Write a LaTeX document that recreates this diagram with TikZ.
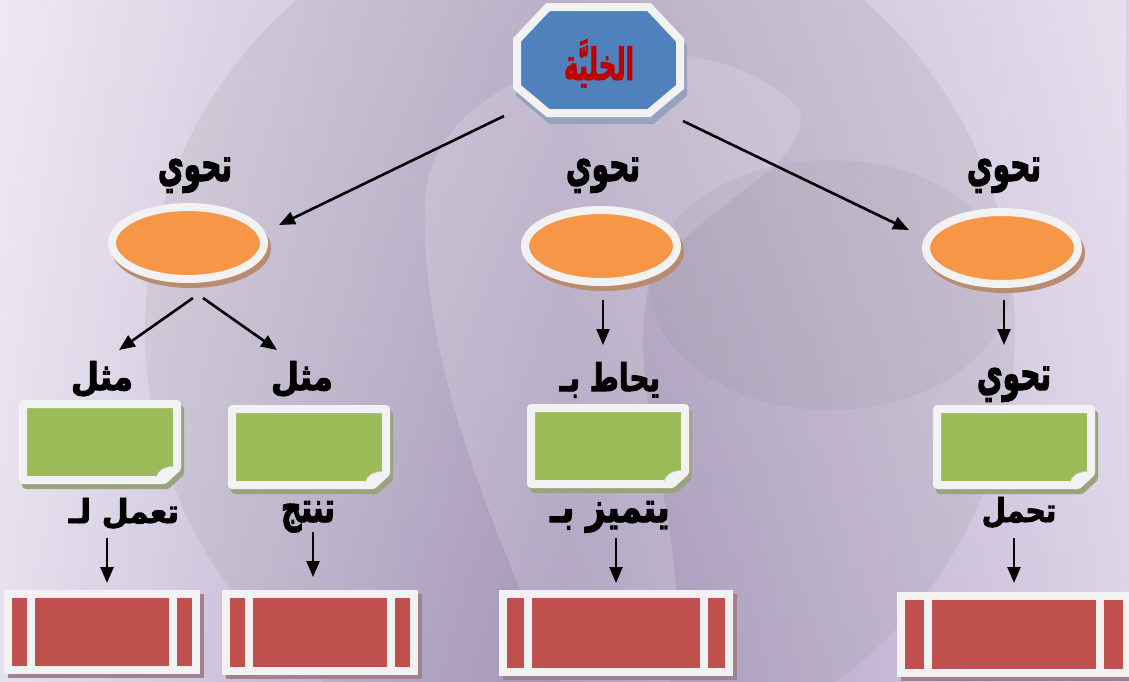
\documentclass[tikz,border=0pt]{standalone}
\usepackage{graphicx}
\usepackage{fontspec}
\newfontfamily\arfont[Script=Arabic,FakeBold=2.6,FakeStretch=0.85]{DejaVu Sans Bold}
\newfontfamily\artitle[Script=Arabic,FakeBold=2.0,FakeStretch=0.72]{DejaVu Sans Bold}
\TeXXeTstate=1
\usetikzlibrary{arrows.meta,calc,fadings,shapes.geometric}
\definecolor{bgleft}{HTML}{E6E0EE}
\definecolor{bgmid}{HTML}{A897C0}
\definecolor{bgright}{HTML}{DCD3E7}
\definecolor{cellblue}{HTML}{4F81BD}
\definecolor{cellshadow}{HTML}{97A2BF}
\definecolor{titlered}{HTML}{C00000}
\definecolor{ovalfill}{HTML}{F79646}
\definecolor{ovalshadow}{HTML}{B98B70}
\definecolor{notefill}{HTML}{9BBB59}
\definecolor{noteshadow}{HTML}{99A47F}
\definecolor{barfill}{HTML}{C0504D}
\definecolor{barshadow}{HTML}{A2818F}
\definecolor{paper}{HTML}{F2F2F2}

% stretched lettering: horizontal and vertical factors
\newcommand\stretchar[3]{\scalebox{#1}[#2]{#3}}

% a green note card with a folded lower right corner
\newcommand\notecard[3]{%
  \begin{scope}[shift={(#2,#3)}]
    \filldraw[fill=noteshadow,draw=noteshadow,line width=8pt,line join=round,shift={(3,5)}]
      (-77,-38) -- (77,-38) -- (77,26) -- (64,38) -- (-77,38) -- cycle;
    \filldraw[fill=notefill,draw=paper,line width=8pt,line join=round]
      (-77,-38) -- (77,-38) -- (77,26) -- (64,38) -- (-77,38) -- cycle;
    \fill[paper] (56,35) .. controls (58,28) and (64,25) .. (74,24) -- (74,30) -- (62,39) -- cycle;
    \draw[black!25,line width=0.6pt] (56,35) .. controls (58,28) and (64,25) .. (74,24);
  \end{scope}
  \node[minimum width=162pt,minimum height=84pt] (#1) at (#2,#3) {};
}

\begin{document}
\begin{tikzpicture}[x=1pt,y=-1pt,
  arr/.style={line width=2.6pt,-{Triangle[length=16pt,width=13pt]}},
  lbl/.style={font=\arfont\fontsize{33}{36}\selectfont,inner sep=0pt,anchor=base},
  oval/.style={ellipse,minimum width=152pt,minimum height=72pt,inner sep=0pt,outer sep=0pt,
    fill=ovalfill,draw=paper,line width=8pt,
    preaction={fill=ovalshadow,draw=ovalshadow,line width=8pt,transform canvas={xshift=3pt,yshift=-5pt}}},
  bar/.style={rectangle,inner sep=0pt,outer sep=0pt,fill=barfill,draw=paper,line width=8pt,
    preaction={fill=barshadow,draw=barshadow,line width=8pt,transform canvas={xshift=4pt,yshift=-4pt}}},
  stripe/.style={draw=paper,line width=8pt}]

% backdrop
\useasboundingbox (0,0) rectangle (1129,681);
\shade[left color=bgleft,right color=bgright,middle color=bgmid] (0,0) rectangle (1129,681);
\fill[white,path fading=south,fill opacity=0.3] (0,0) rectangle (1129,681);
\begin{scope}
  \clip (0,0) rectangle (1129,681);
  \fill[black!45,fill opacity=0.15] (580,330) circle[radius=435];
  \fill[white,fill opacity=0.16] (425,200) .. controls (430,60) and (700,0) .. (800,110)
    .. controls (810,170) and (700,200) .. (650,280)
    .. controls (620,400) and (700,550) .. (670,681) -- (560,681)
    .. controls (480,500) and (420,350) .. (425,200) -- cycle;
  \fill[black!50,fill opacity=0.10] (830,285) ellipse[x radius=180,y radius=125];
\end{scope}

% the cell octagon
\filldraw[fill=cellshadow,draw=cellshadow,line width=8pt,shift={(3,7)}]
  (548,7) -- (649,7) -- (680,40) -- (680,87) -- (649,113) -- (548,113) -- (517,87) -- (517,40) -- cycle;
\filldraw[fill=cellblue,draw=paper,line width=8pt]
  (548,7) -- (649,7) -- (680,40) -- (680,87) -- (649,113) -- (548,113) -- (517,87) -- (517,40) -- cycle;
\node[minimum width=170pt,minimum height=114pt] (cell) at (598,60) {};
\node[lbl,text=titlered,font=\artitle\fontsize{34}{36}\selectfont] (title) at (599,80)
  {\stretchar{1}{1.3}{\beginR الخليَّة\endR}};

% ovals
\node[oval] (o1) at (188,243) {};
\node[oval] (o2) at (601,246) {};
\node[oval] (o3) at (1002,248) {};

\node[lbl] (k1) at (195,181) {\stretchar{1}{1.45}{\beginR تحوي\endR}};
\node[lbl] (k2) at (603,181) {\stretchar{1}{1.45}{\beginR تحوي\endR}};
\node[lbl] (k3) at (1004,181) {\stretchar{1}{1.45}{\beginR تحوي\endR}};

% note cards
\notecard{n1}{100}{442}
\notecard{n2}{309}{447}
\notecard{n3}{608}{446}
\notecard{n4}{1014}{447}

\node[lbl] (m1) at (102,390) {\stretchar{1.15}{1.15}{\beginR مثل\endR}};
\node[lbl] (m2) at (302,390) {\stretchar{1.15}{1.15}{\beginR مثل\endR}};
\node[lbl] (m3) at (610,391) {\stretchar{1}{1.15}{\beginR يحاط بـ\endR}};
\node[lbl] (m4) at (1014,390) {\stretchar{1}{1.45}{\beginR تحوي\endR}};

\node[lbl] (b1) at (124,523) {\stretchar{1.1}{1.0}{\beginR تعمل لـ\endR}};
\node[lbl] (b2) at (308,522) {\stretchar{1}{1.3}{\beginR تنتج\endR}};
\node[lbl] (b3) at (610,522) {\stretchar{1.2}{1.3}{\beginR يتميز بـ\endR}};
\node[lbl] (b4) at (1019,522) {\stretchar{1}{1.0}{\beginR تحمل\endR}};

% red bars
\node[bar,minimum width=188pt,minimum height=76pt] (r1) at (102,632) {};
\node[bar,minimum width=188pt,minimum height=77pt] (r2) at (320,632.5) {};
\node[bar,minimum width=226pt,minimum height=78pt] (r3) at (616,633) {};
\node[bar,minimum width=226pt,minimum height=77pt] (r4) at (1014,634.5) {};
\foreach \r/\d in {r1/23,r2/23,r3/25,r4/27}{
  \draw[stripe] ($(\r.north west)+(\d,0)$) -- ($(\r.south west)+(\d,0)$);
  \draw[stripe] ($(\r.north east)+(-\d,0)$) -- ($(\r.south east)+(-\d,0)$);
}

% connectors
\coordinate (cL) at (504,116);
\coordinate (cR) at (683,121);
\coordinate (o1a) at (279,225);
\coordinate (o3a) at (909,230);
\draw[arr] (cL) -- (o1a);
\draw[arr] (cR) -- (o3a);

\coordinate (o1l) at (193,298);
\coordinate (o1r) at (203,298);
\coordinate (m1a) at (119,350);
\coordinate (m2a) at (277,350);
\draw[arr] (o1l) -- (m1a);
\draw[arr] (o1r) -- (m2a);

\coordinate (o2b) at (603,300);
\coordinate (m3a) at (603,345);
\draw[arr] (o2b) -- (m3a);
\coordinate (o3b) at (1004,300);
\coordinate (m4a) at (1004,345);
\draw[arr] (o3b) -- (m4a);

\coordinate (b1t) at (107,538);
\coordinate (r1a) at (107,583);
\draw[arr] (b1t) -- (r1a);
\coordinate (b2t) at (313,532);
\coordinate (r2a) at (313,577);
\draw[arr] (b2t) -- (r2a);
\coordinate (b3t) at (616,538);
\coordinate (r3a) at (616,583);
\draw[arr] (b3t) -- (r3a);
\coordinate (b4t) at (1014,538);
\coordinate (r4a) at (1014,583);
\draw[arr] (b4t) -- (r4a);
\end{tikzpicture}
\end{document}
